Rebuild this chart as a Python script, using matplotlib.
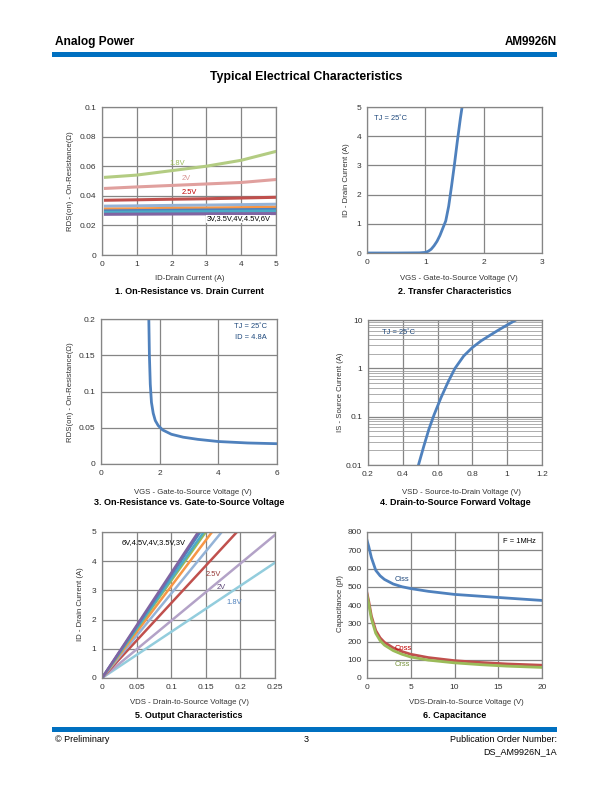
import numpy as np
import matplotlib
matplotlib.use('Agg')
import matplotlib.pyplot as plt

plt.rcParams['font.family'] = ['Liberation Sans', 'DejaVu Sans']

# 1. On-resistance vs drain current
id1 = [0.1, 1, 2, 3, 4, 5]
rds_18 = [0.0525, 0.054, 0.057, 0.0600, 0.064, 0.070]
rds_2 = [0.045, 0.046, 0.047, 0.048, 0.049, 0.051]
rds_25 = [0.037, 0.0373, 0.0377, 0.038, 0.0385, 0.039]
rds_3 = [0.033, 0.0332, 0.0335, 0.0337, 0.034, 0.0343]
rds_35 = [0.031, 0.0312, 0.0315, 0.0317, 0.032, 0.0322]
rds_4 = [0.0298, 0.030, 0.0302, 0.0304, 0.0306, 0.0308]
rds_45 = [0.0288, 0.029, 0.0292, 0.0293, 0.0295, 0.0297]
rds_6 = [0.0275, 0.0276, 0.0277, 0.0278, 0.0279, 0.028]

# 2. Transfer characteristics
vgs2 = [0, 0.5, 0.9, 1.0, 1.05, 1.1, 1.15, 1.2, 1.25, 1.3, 1.35, 1.4, 1.45, 1.5, 1.55, 1.6, 1.63]
id2 = [0, 0, 0.005, 0.02, 0.06, 0.13, 0.25, 0.4, 0.6, 0.85, 1.1, 1.6, 2.3, 3.05, 3.85, 4.6, 5.0]

# 3. On-resistance vs VGS
vgs3 = [1.63, 1.65, 1.68, 1.72, 1.78, 1.85, 1.95, 2.1, 2.4, 2.8, 3.3, 4, 5, 6]
rds3 = [0.2, 0.15, 0.11, 0.085, 0.07, 0.06, 0.053, 0.047, 0.041, 0.037, 0.034, 0.031, 0.029, 0.028]

# 4. Body diode forward voltage
vsd4 = [0.49, 0.52, 0.55, 0.58, 0.62, 0.66, 0.70, 0.75, 0.8, 0.85, 0.9, 0.95, 1.0, 1.05]
is4 = [0.01, 0.024, 0.055, 0.11, 0.25, 0.52, 1.0, 1.8, 2.7, 3.7, 4.8, 6.2, 7.9, 10]

# 5. Output characteristics (VDS at ID = 0 and 5 A, or ID at 0.25 V)
vds5 = {'6V': [0, 0.139], '4.5V': [0, 0.142], '4V': [0, 0.147], '3.5V': [0, 0.150],
        '3V': [0, 0.159], '3Vb': [0, 0.173], '2.5V': [0, 0.195], '2V': [0, 0.25], '1.8V': [0, 0.25]}
id5 = {'6V': [0, 5], '4.5V': [0, 5], '4V': [0, 5], '3.5V': [0, 5],
       '3V': [0, 5], '3Vb': [0, 5], '2.5V': [0, 5], '2V': [0, 4.9], '1.8V': [0, 3.95]}

# 6. Capacitance
vds6 = [0, 0.2, 0.5, 1, 1.5, 2, 3, 4, 5, 7, 10, 13, 16, 20]
ciss = [755, 720, 660, 590, 560, 540, 515, 500, 490, 475, 458, 448, 438, 425]
coss = [465, 420, 340, 260, 220, 195, 165, 145, 130, 112, 95, 85, 77, 70]
crss = [455, 405, 325, 245, 205, 180, 150, 130, 115, 98, 83, 73, 65, 58]

W, H = 612, 792
fig = plt.figure(figsize=(6.12, 7.92), dpi=100)

def box(l, t, r, b):
    return fig.add_axes([l / W, 1 - b / H, (r - l) / W, (b - t) / H])

def style(ax):
    ax.grid(True, color='#858585', lw=0.9)
    ax.set_axisbelow(True)
    for s in ax.spines.values():
        s.set_color('#858585')
        s.set_linewidth(0.9)
    ax.tick_params(length=0, labelsize=6, labelcolor='#333333', pad=4)

def labels(ax, xl, xpos, yl, ypos):
    # axis labels placed at page pixel positions
    ax.set_xlabel(xl, fontsize=5.6, color='#333333', va='center')
    ax.xaxis.set_label_coords(xpos[0] / W, 1 - xpos[1] / H, transform=fig.transFigure)
    ax.set_ylabel(yl, fontsize=5.6, color='#333333', va='center')
    ax.yaxis.set_label_coords(ypos[0] / W, 1 - ypos[1] / H, transform=fig.transFigure)

def ftext(x, y, s, **kw):
    fig.text(x / W, 1 - y / H, s, **kw)

# header / footer
ftext(55, 42, 'Analog Power', fontsize=8.6, weight='bold', va='center')
ftext(557, 42, 'AM9926N', fontsize=8.4, weight='bold', va='center', ha='right')
fig.patches.append(plt.Rectangle((52 / W, 1 - 57 / H), 505 / W, 5 / H, transform=fig.transFigure,
                                 color='#0070C0', lw=0))
fig.patches.append(plt.Rectangle((52 / W, 1 - 732 / H), 505 / W, 5 / H, transform=fig.transFigure,
                                 color='#0070C0', lw=0))
ftext(306, 77, 'Typical Electrical Characteristics', fontsize=8.8, weight='bold', ha='center', va='center')
ftext(55, 740, '\u00a9 Preliminary', fontsize=6.5, va='center')
ftext(306, 740, '3', fontsize=6.5, va='center', ha='center')
ftext(557, 740, 'Publication Order Number:', fontsize=6.5, va='center', ha='right')
ftext(557, 752, 'DS_AM9926N_1A', fontsize=6.5, va='center', ha='right')

tsize = 6.5
asize = 5.4

# ---- chart 1
ax = box(102, 107, 276, 255)
style(ax)
for y, c in [(rds_18, '#B3CC82'), (rds_2, '#E0A09E'), (rds_25, '#C0504D'), (rds_3, '#95B3D7'),
             (rds_35, '#F79646'), (rds_4, '#4F81BD'), (rds_45, '#4BACC6'), (rds_6, '#8064A2')]:
    ax.plot(id1, y, color=c, lw=2.2)
ax.set_xlim(0, 5)
ax.set_ylim(0, 0.1)
ax.set_yticks(np.arange(0, 0.101, 0.02))
ax.set_yticklabels(['0', '0.02', '0.04', '0.06', '0.08', '0.1'])
ax.text(1.95, 0.0605, '1.8V', fontsize=asize, color='#9BBB59')
ax.text(2.3, 0.0505, '2V', fontsize=asize, color='#D99694')
ax.text(2.3, 0.0415, '2.5V', fontsize=asize, color='#C00000')
ax.text(3.0, 0.0235, '3V,3.5V,4V,4.5V,6V', fontsize=asize, color='black',
        bbox=dict(fc='white', ec='none', pad=0.5))
labels(ax, 'ID-Drain Current (A)', (190, 278), 'RDS(on) - On-Resistance(\u03a9)', (71, 181))
ftext(189, 291, '1. On-Resistance vs. Drain Current', fontsize=tsize, weight='bold', ha='center', va='center')

# ---- chart 2
ax = box(367, 107, 542, 253)
style(ax)
ax.plot(vgs2, id2, color='#4F81BD', lw=2)
ax.set_xlim(0, 3)
ax.set_ylim(0, 5)
ax.set_xticks([0, 1, 2, 3])
ax.text(0.12, 4.55, 'TJ = 25\u02daC', fontsize=asize, color='#1F497D')
labels(ax, 'VGS - Gate-to-Source Voltage (V)', (459, 279), 'ID - Drain Current (A)', (346, 180))
ftext(455, 291, '2. Transfer Characteristics', fontsize=tsize, weight='bold', ha='center', va='center')

# ---- chart 3
ax = box(101, 319, 277, 464)
style(ax)
ax.plot(vgs3, rds3, color='#4F81BD', lw=2)
ax.set_xlim(0, 6)
ax.set_ylim(0, 0.2)
ax.set_xticks([0, 2, 4, 6])
ax.set_yticks([0, 0.05, 0.1, 0.15, 0.2])
ax.set_yticklabels(['0', '0.05', '0.1', '0.15', '0.2'])
ax.text(5.65, 0.187, 'TJ = 25\u02daC', fontsize=asize, color='#1F497D', ha='right')
ax.text(5.65, 0.172, 'ID = 4.8A', fontsize=asize, color='#1F497D', ha='right')
labels(ax, 'VGS - Gate-to-Source Voltage (V)', (193, 492), 'RDS(on) - On-Resistance(\u03a9)', (70, 392))
ftext(189, 503, '3. On-Resistance vs. Gate-to-Source Voltage', fontsize=tsize, weight='bold', ha='center',
      va='center')

# ---- chart 4
ax = box(368, 320, 542, 465)
style(ax)
ax.set_yscale('log')
ax.plot(vsd4, is4, color='#4F81BD', lw=2)
ax.set_xlim(0.2, 1.2)
ax.set_ylim(0.01, 10)
ax.set_xticks([0.2, 0.4, 0.6, 0.8, 1.0, 1.2])
ax.set_xticklabels(['0.2', '0.4', '0.6', '0.8', '1', '1.2'])
ax.set_yticks([0.01, 0.1, 1, 10])
ax.set_yticklabels(['0.01', '0.1', '1', '10'])
ax.grid(True, which='minor', axis='y', color='#a0a0a0', lw=0.6)
ax.tick_params(which='minor', length=0)
ax.text(0.28, 5.2, 'TJ = 25\u02daC', fontsize=asize, color='#1F497D')
labels(ax, 'VSD - Source-to-Drain Voltage (V)', (462, 492), 'IS - Source Current (A)', (341, 392))
ftext(455, 503, '4. Drain-to-Source Forward Voltage', fontsize=tsize, weight='bold', ha='center', va='center')

# ---- chart 5
ax = box(102, 532, 275, 678)
style(ax)
cols5 = {'6V': '#8064A2', '4.5V': '#4F81BD', '4V': '#4BACC6', '3.5V': '#9BBB59', '3V': '#F79646',
         '3Vb': '#95B3D7', '2.5V': '#C0504D', '2V': '#B3A2C7', '1.8V': '#93CDDD'}
for k in ['1.8V', '2V', '2.5V', '3Vb', '3V', '3.5V', '4V', '4.5V', '6V']:
    ax.plot(vds5[k], id5[k], color=cols5[k], lw=1.8)
ax.set_xlim(0, 0.25)
ax.set_ylim(0, 5)
ax.set_xticks([0, 0.05, 0.1, 0.15, 0.2, 0.25])
ax.set_xticklabels(['0', '0.05', '0.1', '0.15', '0.2', '0.25'])
ax.text(0.029, 4.6, '6V,4.5V,4V,3.5V,3V', fontsize=asize, color='black')
ax.text(0.15, 3.5, '2.5V', fontsize=asize, color='#953735')
ax.text(0.166, 3.05, '2V', fontsize=asize, color='#5F497A')
ax.text(0.18, 2.55, '1.8V', fontsize=asize, color='#4F81BD')
labels(ax, 'VDS - Drain-to-Source Voltage (V)', (190, 703), 'ID - Drain Current (A)', (81, 604))
ftext(189, 715, '5. Output Characteristics', fontsize=tsize, weight='bold', ha='center', va='center')

# ---- chart 6
ax = box(367, 532, 542, 678)
style(ax)
ax.plot(vds6, ciss, color='#4F81BD', lw=2)
ax.plot(vds6, coss, color='#C0504D', lw=2)
ax.plot(vds6, crss, color='#9BBB59', lw=2)
ax.set_xlim(0, 20)
ax.set_ylim(0, 800)
ax.set_xticks([0, 5, 10, 15, 20])
ax.set_yticks(range(0, 801, 100))
ax.text(3.2, 530, 'Ciss', fontsize=asize, color='#1F497D')
ax.text(3.2, 155, 'Coss', fontsize=asize, color='#C00000')
ax.text(3.2, 65, 'Crss', fontsize=asize, color='#77933C')
ax.text(19.3, 742, 'F = 1MHz', fontsize=asize, color='black', ha='right')
labels(ax, 'VDS-Drain-to-Source Voltage (V)', (466, 703), 'Capacitance (pf)', (340, 604))
ftext(455, 715, '6. Capacitance', fontsize=tsize, weight='bold', ha='center', va='center')

fig.savefig('out.png', dpi=100)
